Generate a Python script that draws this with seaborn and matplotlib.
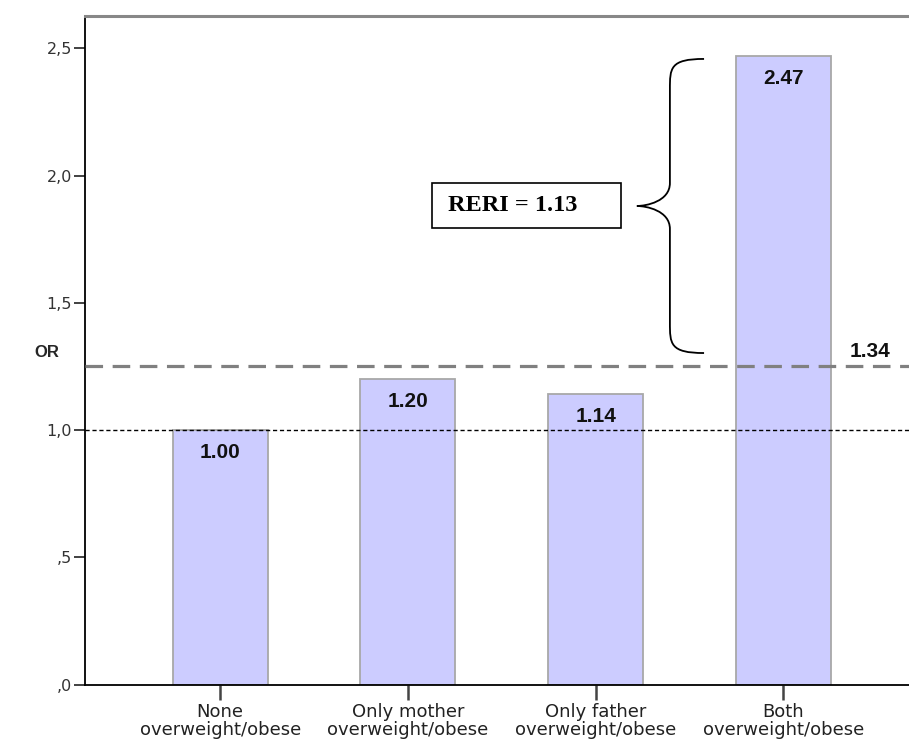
import matplotlib
matplotlib.use("Agg")
import matplotlib.pyplot as plt
from matplotlib.path import Path
from matplotlib.patches import PathPatch, Rectangle
import seaborn as sns
import pandas as pd

# ---- data ----
categories = ["None\noverweight/obese", "Only mother\noverweight/obese",
              "Only father\noverweight/obese", "Both\noverweight/obese"]
odds_ratios = [1.00, 1.20, 1.14, 2.47]
bar_labels = ["1.00", "1.20", "1.14", "2.47"]
y_ticks = [0.0, 0.5, 1.0, 1.5, 2.0, 2.5]
y_tick_labels = [",0", ",5", "1,0", "1,5", "2,0", "2,5"]
reference_line = 1.0
expected_line = 1.25
expected_label = "1.34"
reri_text = "RERI = 1.13"
y_label = "OR"

df = pd.DataFrame({"group": categories, "OR": odds_ratios})

sns.set_style("white")
plt.rcParams['font.family'] = ['DejaVu Sans']

fig = plt.figure(figsize=(9.09, 7.43), dpi=100)
ax = fig.add_axes([0.093, 0.0787, 0.907, 0.9002])

sns.barplot(data=df, x="group", y="OR", color="#CCCCFF", saturation=1,
            edgecolor="#A8A8A8", linewidth=1.3, width=0.506, ax=ax, zorder=2)

ax.set_xlim(-0.723, 3.67)
ax.set_ylim(0, 2.628)

# reference lines
ax.axhline(reference_line, color="black", lw=1.0, ls=(0, (3, 2)), zorder=4)
ax.axhline(expected_line, color="#808080", lw=2.3, ls=(0, (5.5, 3)), zorder=4)

# bar value labels
for i, (v, lab) in enumerate(zip(odds_ratios, bar_labels)):
    ax.text(i, v - 0.088, lab, ha="center", va="center", fontsize=15,
            fontweight="bold", family="Liberation Sans", color="#111111", zorder=5)

ax.text(3.462, expected_line + 0.057, expected_label, ha="center", va="center",
        fontsize=15, fontweight="bold", family="Liberation Sans", color="#111111")

# curly brace
x_end, x_sp, x_tip = 2.578, 2.396, 2.22
y_top, y_bot = 2.458, 1.3025
y_mid = (y_top + y_bot) / 2
r1 = 0.12
r2 = 0.09
verts = [
    (x_end, y_top), (x_sp, y_top), (x_sp, y_top - r1 * 0.3), (x_sp, y_top - r1),
    (x_sp, y_mid + r2),
    (x_sp, y_mid + r2 * 0.2), (x_tip + 0.05, y_mid), (x_tip, y_mid),
    (x_tip + 0.05, y_mid), (x_sp, y_mid - r2 * 0.2), (x_sp, y_mid - r2),
    (x_sp, y_bot + r1),
    (x_sp, y_bot + r1 * 0.3), (x_sp, y_bot), (x_end, y_bot),
]
codes = [Path.MOVETO, Path.CURVE4, Path.CURVE4, Path.CURVE4,
         Path.LINETO,
         Path.CURVE4, Path.CURVE4, Path.CURVE4,
         Path.CURVE4, Path.CURVE4, Path.CURVE4,
         Path.LINETO,
         Path.CURVE4, Path.CURVE4, Path.CURVE4]
ax.add_patch(PathPatch(Path(verts, codes), facecolor="none", edgecolor="black",
                       lw=1.3, zorder=5))

# RERI box
ax.add_patch(Rectangle((1.13, 1.794), 1.003, 0.178, facecolor="white",
                       edgecolor="black", lw=1.2, zorder=5))
ax.text(1.557, 1.883, reri_text, ha="center", va="center", fontsize=17.5,
        fontweight="bold", family="Liberation Serif", color="black", zorder=6)

# axes styling
ax.set_yticks(y_ticks)
ax.set_yticklabels(y_tick_labels, fontsize=11.5, color="#333333")
ax.tick_params(axis="y", direction="out", length=8, width=1.3, color="#333333",
               left=True, pad=1)
ax.tick_params(axis="x", direction="out", length=11, width=1.8, color="#444444",
               bottom=True, labelsize=13, labelcolor="#222222", pad=2)
for lab in ax.get_xticklabels():
    lab.set_linespacing(1.06)
ax.set_xlabel("")
ax.set_ylabel("")
ax.text(-0.99, expected_line + 0.055, y_label, transform=ax.transData,
        ha="left", va="center", fontsize=12, fontweight="bold",
        family="Liberation Sans", clip_on=False)

ax.spines["left"].set_color("black")
ax.spines["left"].set_linewidth(1.3)
ax.spines["bottom"].set_color("black")
ax.spines["bottom"].set_linewidth(1.3)
ax.spines["top"].set_color("#888888")
ax.spines["top"].set_linewidth(2.2)
ax.spines["right"].set_visible(False)

fig.savefig("out.png", dpi=100)
